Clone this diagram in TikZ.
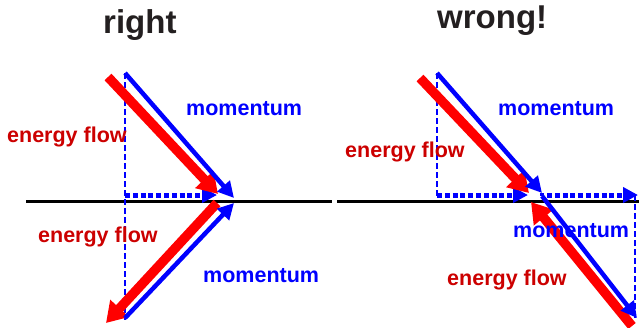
\documentclass[tikz,border=0pt]{standalone}
\usepackage{fontspec}
\setmainfont{Liberation Sans}
\usetikzlibrary{arrows.meta}
\definecolor{tred}{RGB}{255,0,0}
\definecolor{lred}{RGB}{204,0,0}
\definecolor{tblue}{RGB}{0,0,255}
\definecolor{ttl}{RGB}{35,31,32}
\begin{document}
\begin{tikzpicture}[x=1pt,y=-1pt,
  redarr/.style={draw=tred, line width=9.5pt, -{Triangle[length=20pt,width=24pt]}},
  bluearr/.style={draw=tblue, line width=4.5pt, -{Triangle[length=16pt,width=16pt]}},
  dotarr/.style={draw=tblue, line width=5pt, dash pattern=on 5pt off 2.8pt, -{Triangle[length=15pt,width=15pt]}},
  dashln/.style={draw=tblue, line width=2pt, dash pattern=on 6pt off 3pt},
  axis/.style={draw=black, line width=3pt},
  elab/.style={text=lred, font=\bfseries\fontsize{21.5}{24}\selectfont, anchor=base west, inner sep=0pt},
  mlab/.style={text=tblue, font=\bfseries\fontsize{21.5}{24}\selectfont, anchor=base west, inner sep=0pt},
  title/.style={text=ttl, font=\bfseries\fontsize{33}{36}\selectfont, anchor=base west, inner sep=0pt}]
\useasboundingbox (0,0) rectangle (639,327);
% ---------- left panel ----------
\coordinate (la1) at (26,201);
\coordinate (la2) at (332,201);
\coordinate (lv1) at (125,73);
\coordinate (lv2) at (125,320);
\coordinate (lr1) at (108,77);
\coordinate (lr2) at (218,194);
\coordinate (lb1) at (125,73);
\coordinate (lb2) at (234,198);
\coordinate (ld1) at (125,195);
\coordinate (ld2) at (217,195);
\coordinate (lr3) at (217,203);
\coordinate (lr4) at (106,323);
\coordinate (lb3) at (125,318);
\coordinate (lb4) at (234,203);
\draw[axis] (la1) -- (la2);
\draw[dashln] (lv1) -- (lv2);
\draw[dotarr] (ld1) -- (ld2);
\draw[redarr] (lr1) -- (lr2);
\draw[bluearr] (lb1) -- (lb2);
\draw[redarr] (lr3) -- (lr4);
\draw[bluearr] (lb3) -- (lb4);
\node[title] (t1) at (103,33) {right};
\node[elab] (le1) at (7,142) {energy flow};
\node[mlab] (lm1) at (186,115) {momentum};
\node[elab] (le2) at (38,242) {energy flow};
\node[mlab] (lm2) at (203,282) {momentum};
% ---------- right panel ----------
\coordinate (ra1) at (337,201);
\coordinate (ra2) at (639,201);
\coordinate (rv1) at (437,73);
\coordinate (rv2) at (437,197);
\coordinate (rv3) at (635,195);
\coordinate (rv4) at (635,320);
\coordinate (rr1) at (420,78);
\coordinate (rr2) at (529,193);
\coordinate (rb1) at (437,73);
\coordinate (rb2) at (542,193);
\coordinate (rb3) at (542,196);
\coordinate (rb4) at (637,318);
\coordinate (rr3) at (632,326);
\coordinate (rr4) at (531,202);
\coordinate (rd1) at (437,195);
\coordinate (rd2) at (528,195);
\coordinate (rd3) at (547,195);
\coordinate (rd4) at (638,195);
\draw[axis] (ra1) -- (ra2);
\draw[dashln] (rv1) -- (rv2);
\draw[dashln] (rv3) -- (rv4);
\draw[dotarr] (rd1) -- (rd2);
\draw[dotarr] (rd3) -- (rd4);
\draw[redarr] (rr1) -- (rr2);
\draw[redarr] (rr3) -- (rr4);
\draw[draw=tblue, line width=4.5pt] (rb2) -- (rb3);
\draw[bluearr] (rb1) -- (rb2);
\draw[bluearr] (rb3) -- (rb4);
\node[title] (t2) at (437,28.5) {wrong!};
\node[elab] (re1) at (345,157) {energy flow};
\node[mlab] (rm1) at (498,115) {momentum};
\node[mlab] (rm2) at (513,237) {momentum};
\node[elab] (re2) at (447,285) {energy flow};
\end{tikzpicture}
\end{document}
